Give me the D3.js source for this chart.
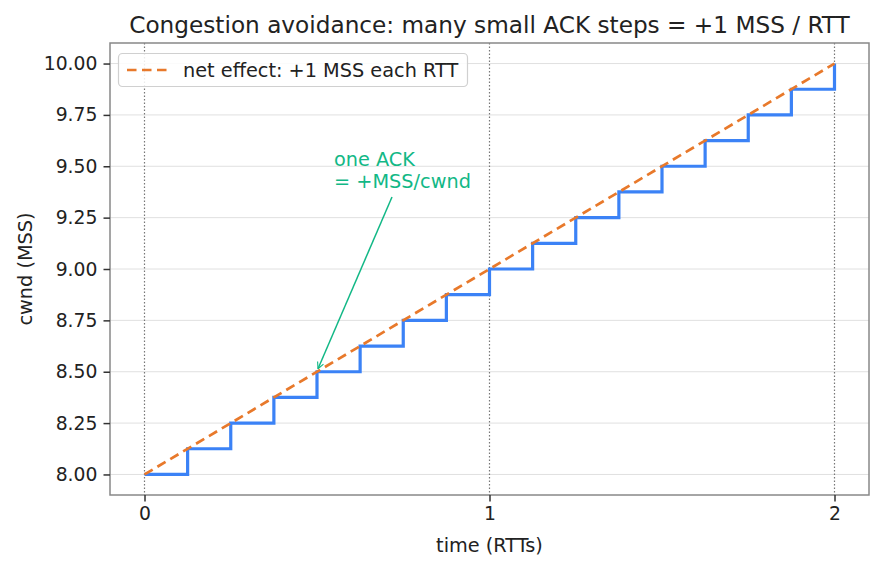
<!DOCTYPE html>
<html><head><meta charset="utf-8">
<script src="https://cdn.jsdelivr.net/npm/d3@7"></script>
<style>body{margin:0;background:#fff;} text{font-family:"DejaVu Sans",sans-serif;}</style>
</head><body><svg id="c" width="883" height="569"></svg>
<script>
const stepX = [0,0.125,0.25,0.375,0.5,0.625,0.75,0.875,1,1.125,1.25,1.375,1.5,1.625,1.75,1.875,2];
const stepY = [8,8.125,8.25,8.375,8.5,8.625,8.75,8.875,9,9.125,9.25,9.375,9.5,9.625,9.75,9.875,10];
const netX = [0,2];
const netY = [8,10];
const xTicks = [0,1,2];
const yTicks = [8,8.25,8.5,8.75,9,9.25,9.5,9.75,10];
const title = "Congestion avoidance: many small ACK steps = +1 MSS / RTT";
const legendLabel = "net effect: +1 MSS each RTT";
const annoLines = ["one ACK","= +MSS/cwnd"];
const annoPoint = [0.5,8.5];

const svg = d3.select("#c");
const L=110,R=869,T=43,B=495;
const FT=18.8, FS=19.3;
const x = d3.scaleLinear().domain([-0.1,2.1]).range([L,R]);
const y = d3.scaleLinear().domain([7.9,10.1]).range([B,T]);

// grid
svg.append("g").selectAll("line").data(yTicks).join("line")
 .attr("x1",L).attr("x2",R).attr("y1",d=>y(d)).attr("y2",d=>y(d))
 .attr("stroke","#e0e0e0").attr("stroke-width",1);
// vertical dotted
svg.append("g").selectAll("line").data(xTicks).join("line")
 .attr("x1",d=>x(d)).attr("x2",d=>x(d)).attr("y1",T).attr("y2",B)
 .attr("stroke","#777").attr("stroke-width",1.2).attr("stroke-dasharray","1.5,2");

// step line
svg.append("path").datum(stepX.map((d,i)=>[d,stepY[i]]))
 .attr("d",d3.line().x(d=>x(d[0])).y(d=>y(d[1])).curve(d3.curveStepAfter))
 .attr("fill","none").attr("stroke","#3b82f6").attr("stroke-width",3.2);
// net line
svg.append("path").datum(netX.map((d,i)=>[d,netY[i]]))
 .attr("d",d3.line().x(d=>x(d[0])).y(d=>y(d[1])))
 .attr("fill","none").attr("stroke","#e8792b").attr("stroke-width",2.7).attr("stroke-dasharray","9.5,5.5");

// spines
svg.append("rect").attr("x",L).attr("y",T).attr("width",R-L).attr("height",B-T)
 .attr("fill","none").attr("stroke","#888").attr("stroke-width",1.5);

// axes
const xa = svg.append("g").attr("transform",`translate(0,${B})`)
 .call(d3.axisBottom(x).tickValues(xTicks).tickFormat(d3.format("d")).tickSize(6.5).tickPadding(5));
const ya = svg.append("g").attr("transform",`translate(${L},0)`)
 .call(d3.axisLeft(y).tickValues(yTicks).tickFormat(d3.format(".2f")).tickSize(6.5).tickPadding(6));
[xa,ya].forEach(a=>{a.select(".domain").remove();
 a.attr("font-size",FT).attr("font-family","DejaVu Sans");
 a.selectAll(".tick line").attr("stroke","#333").attr("stroke-width",1.5);
 a.selectAll(".tick text").attr("font-size",FT).attr("fill","#222");});

// title & labels
svg.append("text").attr("x",(L+R)/2).attr("y",33).attr("text-anchor","middle")
 .attr("font-size",23.2).attr("fill","#222").text(title);
svg.append("text").attr("x",(L+R)/2).attr("y",552).attr("text-anchor","middle")
 .attr("font-size",FS).attr("fill","#222").text("time (RTTs)");
svg.append("text").attr("transform",`translate(32,${(T+B)/2}) rotate(-90)`).attr("text-anchor","middle")
 .attr("font-size",FS).attr("fill","#222").text("cwnd (MSS)");

// legend
const lg = svg.append("g");
lg.append("rect").attr("x",118.5).attr("y",53.5).attr("width",349).attr("height",33).attr("rx",4)
 .attr("fill","#fff").attr("fill-opacity",0.85).attr("stroke","#d0d0d0").attr("stroke-width",1.2);
lg.append("line").attr("x1",127).attr("x2",168).attr("y1",70).attr("y2",70)
 .attr("stroke","#e8792b").attr("stroke-width",2.7).attr("stroke-dasharray","9.5,5.5");
lg.append("text").attr("x",183).attr("y",77).attr("font-size",FS).attr("fill","#222").text(legendLabel);

// annotation
const green="#12b886";
svg.append("defs").append("marker").attr("id","ah").attr("viewBox","0 0 10 10").attr("refX",9).attr("refY",5)
 .attr("markerWidth",8).attr("markerHeight",8).attr("markerUnits","userSpaceOnUse").attr("orient","auto-start-reverse")
 .append("path").attr("d","M1,1 L9,5 L1,9").attr("fill","none").attr("stroke",green).attr("stroke-width",1.4);
const at = svg.append("text").attr("x",334).attr("y",166).attr("font-size",FS).attr("fill",green);
annoLines.forEach((t,i)=>at.append("tspan").attr("x",334).attr("dy",i?22:0).text(t));
svg.append("line").attr("x1",392).attr("y1",197).attr("x2",x(annoPoint[0])+1).attr("y2",y(annoPoint[1])-3)
 .attr("stroke",green).attr("stroke-width",1.5).attr("marker-end","url(#ah)");
</script></body></html>
